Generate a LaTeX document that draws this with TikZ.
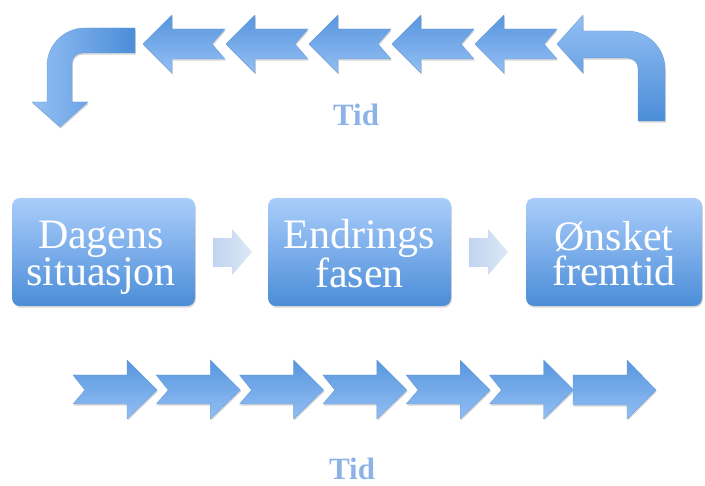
\documentclass[tikz,border=0pt]{standalone}
\usepackage{fontspec}
\setmainfont{Liberation Serif}
\definecolor{chevdark}{HTML}{5896DE}
\definecolor{chevlight}{HTML}{93BFF4}
\definecolor{chevedge}{HTML}{6A9FDC}
\definecolor{boxtop}{HTML}{AACDFB}
\definecolor{boxbottom}{HTML}{4B8DD8}
\definecolor{hintleft}{HTML}{C2D4F0}
\definecolor{hintright}{HTML}{DCE7F7}
\definecolor{tidblue}{HTML}{8DB3E6}
\begin{document}
\begin{tikzpicture}[x=1pt,y=-1pt,
  softshadow/.style={preaction={fill=black,opacity=0.16,
      transform canvas={xshift=0.8pt,yshift=-1.6pt}}},
  chevtop/.style={softshadow,top color=chevdark,bottom color=chevlight,
      draw=chevedge,line width=0.4pt,line join=round},
  bendleft/.style={softshadow,left color=chevlight,right color=boxbottom,
      draw=chevedge,line width=0.4pt,line join=round},
  bendright/.style={softshadow,top color=chevlight,bottom color=boxbottom,
      draw=chevedge,line width=0.4pt,line join=round},
  stepbox/.style={softshadow,rounded corners=8pt,top color=boxtop,
      bottom color=boxbottom,minimum height=108pt,inner sep=0pt},
  boxtext/.style={text=white,align=center,inner sep=0pt,
      font=\fontsize{42}{35}\selectfont},
  hintarrow/.style={left color=hintleft,right color=hintright,
      line join=round},
  tidlabel/.style={text=tidblue,font=\fontsize{31}{36}\selectfont\bfseries,
      anchor=base,inner sep=0pt}]
\useasboundingbox (0,0) rectangle (705,486);

% --- top row: time running back to the left ---
% bent arrow on the right, turning the row round
\path[bendright] (557,44) -- (583,15) -- (583,31) -- (627,31)
  arc[start angle=-90,end angle=0,radius=38] -- (665,121) -- (638,121)
  -- (638,68) arc[start angle=0,end angle=-90,radius=10] -- (583,58)
  -- (583,73) -- cycle;
% five chevron arrows pointing left
\foreach \i in {0,...,4}{
  \pgfmathsetmacro\T{143+83*\i}
  \path[chevtop] (\T,44) -- (\T+29,15) -- (\T+29,29) -- (\T+82,29)
    -- (\T+69,44) -- (\T+82,59) -- (\T+29,59) -- (\T+29,73) -- cycle;
}
% bent arrow on the left, turning downwards
\path[bendleft] (135,28) -- (85,28)
  arc[start angle=-90,end angle=-180,radius=38] -- (47,102) -- (32,102)
  -- (60,127) -- (88,102) -- (72,102) -- (72,63)
  arc[start angle=180,end angle=270,radius=10] -- (135,53) -- cycle;
\node[tidlabel] (tidtop) at (356,126) {Tid};

% --- middle row: the three phases ---
\node[stepbox,minimum width=183pt] (b1) at (103.5,252) {};
\node[stepbox,minimum width=183pt] (b2) at (359.5,252) {};
\node[stepbox,minimum width=176pt] (b3) at (614,252) {};
\node[boxtext] (t1) at (101,258.5) {Dagens\\situasjon\strut};
\node[boxtext] (t2) at (359.5,258.5) {Endrings\\fasen\strut};
\node[boxtext] (t3) at (614,258.5) {Ønsket\\fremtid\strut};
\path[hintarrow] (213,238) -- (232,238) -- (232,229) -- (252,252)
  -- (232,275) -- (232,267) -- (213,267) -- cycle;
\path[hintarrow] (469,238) -- (488,238) -- (488,229) -- (508,252)
  -- (488,275) -- (488,267) -- (469,267) -- cycle;

% --- bottom row: time running forward ---
\foreach \i in {0,...,5}{
  \pgfmathsetmacro\S{73+83.3*\i}
  \path[chevtop] (\S,375) -- (\S+54,375) -- (\S+54,360) -- (\S+84,390)
    -- (\S+54,419) -- (\S+54,404) -- (\S,404) -- (\S+12,390) -- cycle;
}
\path[chevtop] (573,375) -- (627,375) -- (627,360) -- (656,390)
  -- (627,419) -- (627,405) -- (573,405) -- cycle;
\node[tidlabel] (tidbottom) at (352,480) {Tid};
\end{tikzpicture}
\end{document}
